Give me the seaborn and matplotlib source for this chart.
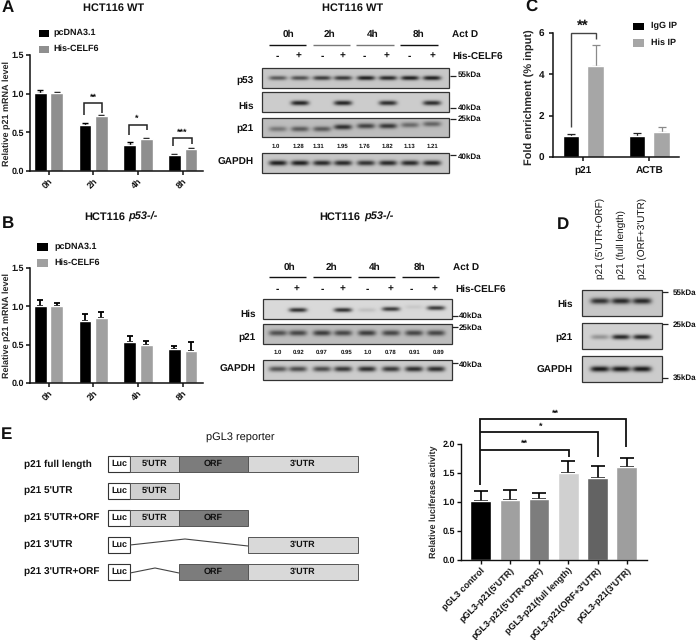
import numpy as np
import pandas as pd
import matplotlib
matplotlib.use('Agg')
import matplotlib.pyplot as plt
from matplotlib.patches import Rectangle
import seaborn as sns

W, H = 698, 640

sns.set_theme(style='ticks')
plt.rcParams['font.family'] = ['Liberation Sans', 'DejaVu Sans']
plt.rcParams['font.weight'] = 'bold'
plt.rcParams['axes.labelweight'] = 'bold'
plt.rcParams['text.hinting'] = 'no_hinting'
plt.rcParams['text.hinting_factor'] = 1

# ---- bar data ----
times = ['0h', '2h', '4h', '8h']
groups_ab = ['pcDNA3.1', 'His-CELF6']

a_pc = [1.01, 0.60, 0.33, 0.21]
a_pc_err = [0.04, 0.02, 0.04, 0.005]
a_his = [1.01, 0.71, 0.42, 0.29]
a_his_err = [0.015, 0.01, 0.012, 0.005]

b_pc = [1.01, 0.81, 0.535, 0.445]
b_pc_err = [0.07, 0.085, 0.08, 0.04]
b_his = [1.01, 0.85, 0.50, 0.42]
b_his_err = [0.04, 0.08, 0.045, 0.11]

c_genes = ['p21', 'ACTB']
c_groups = ['IgG IP', 'His IP']
c_igg = [1.0, 1.0]
c_igg_err = [0.09, 0.17]
c_his = [4.38, 1.2]
c_his_err = [1.03, 0.27]

e_names = ['pGL3 control', "pGL3-p21(5'UTR)", "pGL3-p21(5'UTR+ORF)", 'pGL3-p21(full length)',
           "pGL3-p21(ORF+3'UTR)", "pGL3-p21(3'UTR)"]
e_vals = [1.01, 1.035, 1.05, 1.495, 1.415, 1.60]
e_err = [0.175, 0.175, 0.10, 0.21, 0.21, 0.165]
e_colors = ['#000000', '#a0a0a0', '#7d7d7d', '#d0d0d0', '#636363', '#9e9e9e']

# ---- blot data (band strength per lane) ----
a_p53 = [0.55, 0.6, 0.7, 0.72, 0.85, 0.8, 0.85, 0.85]
a_anti_his = [0, 0.85, 0, 0.85, 0, 0.8, 0, 0.8]
a_p21 = [0.35, 0.5, 0.5, 0.72, 0.62, 0.68, 0.42, 0.45]
a_gapdh = [0.85, 0.85, 0.8, 0.8, 0.75, 0.8, 0.8, 0.8]
a_ratio = ['1.0', '1.28', '1.31', '1.95', '1.76', '1.82', '1.13', '1.21']

b_anti_his = [0, 0.85, 0, 0.85, 0.12, 0.8, 0.08, 0.8]
b_p21 = [0.55, 0.6, 0.65, 0.6, 0.65, 0.6, 0.6, 0.6]
b_gapdh = [0.6, 0.65, 0.65, 0.75, 0.8, 0.75, 0.8, 0.8]
b_ratio = ['1.0', '0.92', '0.97', '0.95', '1.0', '0.78', '0.91', '0.89']

d_cols = ["p21 (5'UTR+ORF)", 'p21 (full length)', "p21 (ORF+3'UTR)"]
d_his = [0.75, 0.8, 0.8]
d_p21 = [0.3, 0.85, 0.85]
d_gapdh = [0.9, 0.9, 0.9]

fig = plt.figure(figsize=(W / 100, H / 100), dpi=100, facecolor='white')


def px_axes(x0, y0, x1, y1):
    return fig.add_axes([x0 / W, 1 - y1 / H, (x1 - x0) / W, (y1 - y0) / H])


def style_axes(ax, lw=1.0, size=6.2):
    sns.despine(ax=ax)
    for s in ['left', 'bottom']:
        ax.spines[s].set_linewidth(lw)
        ax.spines[s].set_color('#111111')
    ax.tick_params(width=lw, length=3, pad=1.5, labelsize=size, colors='#111111')


def add_errors(ax, values, errors, colors, lw=1.0, cap=2.2):
    for cont, vals, errs, c in zip(ax.containers, values, errors, colors):
        for bar, v, e in zip(cont, vals, errs):
            ax.errorbar(bar.get_x() + bar.get_width() / 2, v, yerr=[[0], [e]], color=c,
                        elinewidth=lw, capsize=cap, capthick=lw, zorder=1)


def grouped_bars(box, cats, names, vals, errs, colors, err_colors, ylim, yticks, xlim, width, gap, ylabel,
                 lw=1.0, err_lw=1.0, cap=2.2, size=6.2):
    df = pd.DataFrame({'cat': list(cats) * 2,
                       'group': [names[0]] * len(cats) + [names[1]] * len(cats),
                       'value': list(vals[0]) + list(vals[1])})
    ax = px_axes(*box)
    sns.barplot(data=df, x='cat', y='value', hue='group', palette=colors, width=width, gap=gap,
                saturation=1, errorbar=None, legend=False, ax=ax, zorder=2)
    add_errors(ax, vals, errs, err_colors, lw=err_lw, cap=cap)
    ax.set_xlim(*xlim)
    ax.set_ylim(*ylim)
    ax.set_yticks(yticks)
    ax.set_xlabel('')
    ax.set_ylabel(ylabel, fontsize=size)
    style_axes(ax, lw, size)
    return ax


# panel A
ax_a = grouped_bars((30, 55, 203, 171), times, groups_ab, [a_pc, a_his], [a_pc_err, a_his_err],
                    ['#000000', '#8f8f8f'], ['#000000', '#000000'], (0, 1.5), [0, 0.5, 1.0, 1.5],
                    (-0.414, 3.456), 0.74, 0.23, 'Relative p21 mRNA level', lw=1.1)
ax_a.set_yticklabels(['0.0', '0.5', '1.0', '1.5'])
ax_a.yaxis.set_label_coords(-0.11, 0.5)
plt.setp(ax_a.get_xticklabels(), rotation=45, ha='right', rotation_mode='anchor')

# panel B
ax_b = grouped_bars((30, 268, 203, 383), times, groups_ab, [b_pc, b_his], [b_pc_err, b_his_err],
                    ['#000000', '#a0a0a0'], ['#000000', '#000000'], (0, 1.5), [0, 0.5, 1.0, 1.5],
                    (-0.414, 3.456), 0.74, 0.23, 'Relative p21 mRNA level', lw=1.1, err_lw=1.3)
ax_b.set_yticklabels(['0.0', '0.5', '1.0', '1.5'])
ax_b.yaxis.set_label_coords(-0.11, 0.5)
plt.setp(ax_b.get_xticklabels(), rotation=45, ha='right', rotation_mode='anchor')

# panel C
ax_c = grouped_bars((553, 33, 679, 157), c_genes, c_groups, [c_igg, c_his], [c_igg_err, c_his_err],
                    ['#000000', '#a6a6a6'], ['#222222', '#8a8a8a'], (0, 6), [0, 2, 4, 6],
                    (-0.46, 1.448), 0.75, 0.32, 'Fold enrichment (% input)', lw=1.1, err_lw=0.9,
                    cap=2.6, size=7)
ax_c.set_ylabel('Fold enrichment (% input)', fontsize=7.7)
ax_c.tick_params(axis='x', labelsize=7.5, pad=4)
ax_c.tick_params(axis='y', pad=3)
ax_c.yaxis.set_label_coords(-0.143, 0.48)

# panel E bars
ax_e = px_axes(461, 444, 647, 560)
df_e = pd.DataFrame({'name': e_names, 'value': e_vals})
sns.barplot(data=df_e, x='name', y='value', hue='name', palette=e_colors, width=0.71, saturation=1,
            errorbar=None, legend=False, ax=ax_e, zorder=2)
for bar, v, e in zip(ax_e.patches, e_vals, e_err):
    ax_e.errorbar(bar.get_x() + bar.get_width() / 2, v, yerr=[[0], [e]], color='#000000',
                  elinewidth=1.2, capsize=4.8, capthick=1.2, zorder=1)
ax_e.set_xlim(-0.675, 5.695)
ax_e.set_ylim(0, 2)
ax_e.set_yticks([0, 0.5, 1.0, 1.5, 2.0])
ax_e.set_yticklabels(['0.0', '0.5', '1.0', '1.5', '2.0'])
ax_e.set_xlabel('')
ax_e.set_ylabel('Relative luciferase activity', fontsize=6.6)
style_axes(ax_e, 1.0, 6.2)
ax_e.yaxis.set_label_coords(-0.124, 0.5)
plt.setp(ax_e.get_xticklabels(), rotation=45, ha='right', rotation_mode='anchor', fontsize=6.4)

# ---- everything else sits on a full figure overlay in pixel coordinates ----
ov = fig.add_axes([0, 0, 1, 1], zorder=10)
ov.patch.set_alpha(0)
ov.axis('off')


def txt(x, y, s, size=6.5, ha='left', va='center', weight='bold', **kw):
    ov.text(x, y, s, fontsize=size, ha=ha, va=va, fontweight=weight, color='#111111', **kw)


def path(xs, ys, lw=1.1, color='#222222'):
    ov.plot(xs, ys, color=color, lw=lw, solid_joinstyle='miter', solid_capstyle='butt')


def blot(x0, y0, x1, y1, lanes, strengths, band_y, bg=0.8, bw=9, bh=3.0):
    # band_y is one number or one per lane
    ys = np.arange(y0, y1, 0.5) + 0.25
    xs = np.arange(x0, x1, 0.5) + 0.25
    xx, yy = np.meshgrid(xs, ys)
    img = np.full(xx.shape, bg)
    by = np.broadcast_to(band_y, (len(lanes),))
    for cx, s, cy in zip(lanes, strengths, by):
        img -= 0.78 * s * np.exp(-((xx - cx) / bw) ** 4 - ((yy - cy) / bh) ** 2)
    ov.imshow(np.clip(img, 0, 1), cmap='gray', vmin=0, vmax=1, aspect='auto', extent=(x0, x1, y1, y0),
              interpolation='bilinear', zorder=1)
    ov.add_patch(Rectangle((x0, y0), x1 - x0, y1 - y0, fill=False, ec='#333333', lw=0.9, zorder=2))


def kda(x, y, ty, s, tx0, tx1):
    path([tx0, tx1], [ty, ty], lw=0.9, color='#222222')
    txt(x, y, s, size=5.9)


def legend_box(x0, y0, x1, y1, color):
    ov.add_patch(Rectangle((x0, y0), x1 - x0, y1 - y0, fc=color, ec='none'))


# panel letters and titles
txt(2, 8, 'A', size=12)
txt(2, 224, 'B', size=12)
txt(525, 7, 'C', size=12)
txt(557, 225, 'D', size=12)
txt(1, 435, 'E', size=12)
txt(114, 8, 'HCT116 WT', size=7.8, ha='center')
txt(353, 8, 'HCT116 WT', size=7.8, ha='center')
txt(125, 217, 'HCT116', size=7.8, ha='right')
txt(128, 217, 'p53-/-', size=7.8, style='italic')
txt(360, 217, 'HCT116', size=7.8, ha='right')
txt(364, 217, 'p53-/-', size=7.8, style='italic')

# legends
legend_box(39, 30, 49, 37, '#000000')
legend_box(39, 46, 49, 53, '#8f8f8f')
txt(53, 33, groups_ab[0], size=6.6)
txt(53, 49, groups_ab[1], size=6.6)
legend_box(37, 243, 48, 251, '#000000')
legend_box(37, 259, 48, 267, '#a0a0a0')
txt(54, 247, groups_ab[0], size=6.6)
txt(54, 263, groups_ab[1], size=6.6)
legend_box(633, 23, 644, 30, '#000000')
legend_box(633, 39, 644, 47, '#a6a6a6')
txt(651, 26, c_groups[0], size=6.8)
txt(651, 43, c_groups[1], size=6.8)

# significance brackets A
path([84, 84, 102, 102], [115, 103, 103, 113])
txt(93, 98, '**', size=6.5, ha='center')
path([129, 129, 147, 147], [135, 125, 125, 130])
txt(137, 119, '*', size=6.5, ha='center')
path([173, 173, 192, 192], [146, 138, 138, 144])
txt(182, 133, '***', size=6.5, ha='center')

# bracket C
path([571, 571, 596, 596], [127, 33, 33, 39], lw=1.0, color='#444444')
txt(583, 26, '**', size=11, ha='center')

# brackets E
path([480, 480, 626, 626], [485, 419, 419, 447], lw=1.3, color='#111111')
path([480, 598, 598], [432, 432, 457], lw=1.3, color='#111111')
path([480, 569, 569], [450, 450, 457], lw=1.3, color='#111111')
txt(555, 414, '**', size=6.5, ha='center')
txt(541, 427, '*', size=6.5, ha='center')
txt(524, 444, '**', size=6.5, ha='center')

# blots A
lanes_a = [278, 300, 322, 343, 366, 388, 410, 432]
for x, s in zip([288, 329, 373, 419], times):
    txt(x, 34, s, size=7.2, ha='center')
txt(452, 34, 'Act D', size=7.2)
for (x0, x1), c in zip([(269, 306), (313, 350), (356, 394), (400, 438)], ['#111111', '#777777', '#777777', '#111111']):
    path([x0, x1], [45, 45], lw=1.0, color=c)
for x, s in zip([277, 298, 322, 342, 364, 387, 409, 432], ['-', '+'] * 4):
    txt(x, 56, s, size=7, ha='center')
txt(452, 56, 'His-CELF6', size=7.2)
blot(262, 68, 449, 88, lanes_a, a_p53, 78, bg=0.78, bh=2.2)
blot(262, 92, 449, 112, lanes_a, a_anti_his, 103, bg=0.8, bh=2.4)
blot(262, 118, 449, 137, lanes_a, a_p21, [129, 129, 129, 127, 126, 126, 125, 124], bg=0.74, bh=2.6)
blot(262, 153, 449, 173, lanes_a, a_gapdh, 163, bg=0.78, bh=2.6)
for x, s in zip([276, 298, 318, 342, 364, 387, 409, 432], a_ratio):
    txt(x, 146, s, size=4.6, ha='center')
for y, s in zip([81, 106, 129, 162], ['p53', 'His', 'p21', 'GAPDH']):
    txt(254, y, s, size=7.3, ha='right')
kda(458, 75, 76, '55kDa', 450, 456)
kda(458, 108, 108, '40kDa', 450, 456)
kda(458, 119, 119, '25kDa', 450, 456)
kda(458, 157, 155, '40kDa', 450, 456)

# blots B
lanes_b = [278, 298, 322, 343, 367, 391, 414, 436]
for x, s in zip([289, 331, 375, 420], times):
    txt(x, 267, s, size=7.2, ha='center')
txt(453, 267, 'Act D', size=7.2)
for x0, x1 in [(269, 306), (313, 351), (358, 395), (402, 439)]:
    path([x0, x1], [277, 277], lw=1.0, color='#111111')
for x, s in zip([277, 297, 322, 343, 367, 390, 411, 435], ['-', '+'] * 4):
    txt(x, 289, s, size=7, ha='center')
txt(455, 289, 'His-CELF6', size=7.2)
blot(263, 299, 452, 319, lanes_b, b_anti_his, [310, 310, 310, 310, 310, 309, 307, 308], bg=0.85, bh=2.2)
blot(263, 324, 452, 344, lanes_b, b_p21, 333, bg=0.74, bh=2.8)
blot(263, 360, 452, 380, lanes_b, b_gapdh, 369, bg=0.8, bh=2.7)
for x, s in zip([278, 299, 322, 347, 368, 391, 415, 439], b_ratio):
    txt(x, 352, s, size=4.6, ha='center')
for y, s in zip([314, 338, 369], ['His', 'p21', 'GAPDH']):
    txt(256, y, s, size=7.3, ha='right')
kda(459, 316, 316, '40kDa', 452, 458)
kda(459, 328, 327, '25kDa', 452, 458)
kda(459, 365, 363, '40kDa', 452, 458)

# blots D
lanes_d = [600, 621, 642]
for x, s in zip(lanes_d, d_cols):
    txt(x, 279, s, size=7, ha='center', va='bottom', rotation=90, weight='normal')
blot(582, 290, 662, 316, lanes_d, d_his, 301, bg=0.78, bw=9.5, bh=3.0)
blot(582, 323, 662, 349, lanes_d, d_p21, 337, bg=0.82, bw=9, bh=2.5)
blot(582, 356, 662, 382, lanes_d, d_gapdh, 369, bg=0.8, bw=9.5, bh=2.8)
for y, s in zip([304, 338, 370], ['His', 'p21', 'GAPDH']):
    txt(573, y, s, size=7.3, ha='right')
kda(673, 293, 292, '55kDa', 662, 668)
kda(673, 325, 324, '25kDa', 662, 668)
kda(673, 378, 378, '35kDa', 662, 668)

# panel E schematic
txt(240, 437, 'pGL3 reporter', size=7.8, ha='center', weight='normal')
row_names = ['p21 full length', "p21 5'UTR", "p21 5'UTR+ORF", "p21 3'UTR", "p21 3'UTR+ORF"]
row_y = [464, 491, 518, 545, 572]
seg_span = {'5': (130, 179, "5'UTR", '#d0d0d0'), 'O': (179, 248, 'ORF', '#7c7c7c'), '3': (248, 358, "3'UTR", '#d9d9d9')}
row_segs = ['5O3', '5', '5O', '3', 'O3']
for y, name, segs in zip(row_y, row_names, row_segs):
    txt(24, y, name, size=7.0)
    ov.add_patch(Rectangle((108, y - 8), 22, 16, fc='white', ec='#333333', lw=0.8))
    txt(119, y, 'Luc', size=6.5, ha='center')
    for k in segs:
        x0, x1, label, c = seg_span[k]
        ov.add_patch(Rectangle((x0, y - 8), x1 - x0, 16, fc=c, ec='#555555', lw=0.7))
        txt((x0 + x1) / 2, y, label, size=6.5, ha='center')
path([130, 185, 248], [545, 539, 546], lw=0.8, color='#444444')
path([130, 155, 179], [573, 568, 573], lw=0.8, color='#444444')

ov.set_xlim(0, W)
ov.set_ylim(H, 0)

plt.savefig('out.png', dpi=100)
